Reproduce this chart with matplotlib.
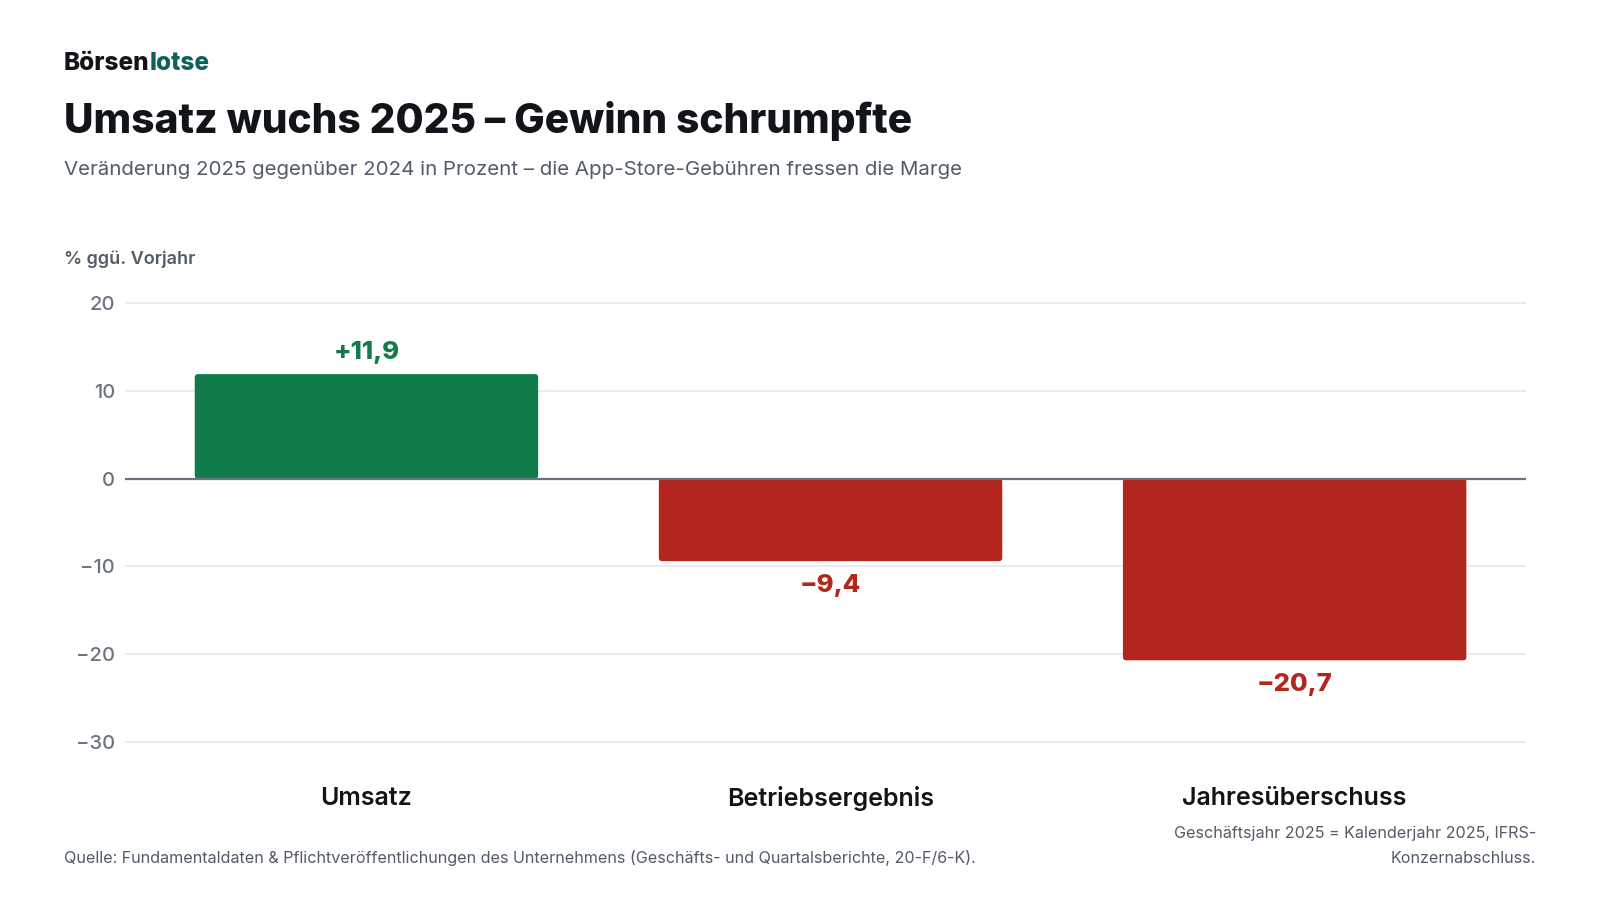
import matplotlib
matplotlib.use("Agg")
import matplotlib.pyplot as plt
import matplotlib.transforms as mtransforms
from matplotlib.patches import FancyBboxPatch

plt.rcParams['font.family'] = ['Inter', 'DejaVu Sans']

categories = ["Umsatz", "Betriebsergebnis", "Jahresüberschuss"]
values = [11.9, -9.4, -20.7]
value_labels = ["+11,9", "\u22129,4", "\u221220,7"]
yticks = [20, 10, 0, -10, -20, -30]
ytick_labels = ["20", "10", "0", "\u221210", "\u221220", "\u221230"]

GREEN = "#117c4b"
RED = "#b3261e"
DARK = "#111418"
GRAY = "#525b68"
TICKGRAY = "#6b7280"

fig = plt.figure(figsize=(16, 9), dpi=100)
fig.patch.set_facecolor("white")

ax_pos = [0.0779, 0.1658, 0.876, 0.5073]
ax = fig.add_axes(ax_pos)
x = list(range(len(categories)))
colors = [GREEN if v >= 0 else RED for v in values]
bars = ax.bar(x, values, width=0.74, color=colors, zorder=3)

xlim = (-0.521, 2.499)
ylim = (-31, 21)
ax.set_xlim(*xlim)
ax.set_ylim(*ylim)

# rounded corners: replace rectangles by rounded boxes with the same bounds
px_x = ax_pos[2] * 1600 / (xlim[1] - xlim[0])
px_y = ax_pos[3] * 900 / (ylim[1] - ylim[0])
r_px = 3.0
rx = r_px / px_x
aspect = (r_px / px_y) / rx
for b in bars:
    bx, by = b.get_x(), b.get_y()
    bw, bh = b.get_width(), b.get_height()
    y0 = min(by, by + bh)
    h = abs(bh)
    fb = FancyBboxPatch((bx, y0), bw, h,
                        boxstyle=f"round,pad=0,rounding_size={rx}",
                        mutation_aspect=aspect,
                        facecolor=b.get_facecolor(), edgecolor='none', zorder=3)
    ax.add_patch(fb)
    b.set_visible(False)

ax.set_yticks(yticks)
ax.set_yticklabels(ytick_labels)
ax.set_xticks([])
ax.tick_params(axis='y', length=0, pad=7, labelsize=14.5, labelcolor=TICKGRAY)
for lab in ax.get_yticklabels():
    lab.set_fontweight('medium')
for s in ax.spines.values():
    s.set_visible(False)
for t in yticks:
    if t == 0:
        continue
    ax.axhline(t, color="#e5e7eb", lw=1.2, zorder=1)
ax.axhline(0, color="#6b7280", lw=1.6, zorder=4)

for xi, v, lab, c in zip(x, values, value_labels, colors):
    off = 15.5 if v >= 0 else -17.5
    ax.annotate(lab, (xi, v), xytext=(0, off), textcoords='offset points',
                ha='center', va='center', fontsize=18.5, fontweight='heavy', color=c)

trans = mtransforms.blended_transform_factory(ax.transData, ax.transAxes)
for xi, cat in zip(x, categories):
    ax.text(xi, -0.1035, cat, transform=trans, ha='center', va='center',
            fontsize=18, fontweight='semibold', color=DARK)

# Header
logo_y = 1 - 64 / 900
t1 = fig.text(0.04, logo_y, "Börsen", fontsize=17.5, fontweight='heavy', color=DARK,
              ha='left', va='center')
fig.canvas.draw()
bb = t1.get_window_extent()
fig.text(bb.x1 / 1600, logo_y, "lotse", fontsize=17.5, fontweight='heavy',
         color="#0f5f5c", ha='left', va='center')

fig.text(0.04, 1 - 121 / 900, "Umsatz wuchs 2025 \u2013 Gewinn schrumpfte", fontsize=29.3,
         fontweight='heavy', color=DARK, ha='left', va='center')
fig.text(0.04, 1 - 170 / 900,
         "Veränderung 2025 gegenüber 2024 in Prozent \u2013 die App-Store-Gebühren fressen die Marge",
         fontsize=14.75, color=GRAY, ha='left', va='center')
fig.text(0.04, 1 - 259 / 900, "% ggü. Vorjahr", fontsize=13, fontweight='semibold',
         color=GRAY, ha='left', va='center')

# Footer
fig.text(0.04, 1 - 858 / 900,
         "Quelle: Fundamentaldaten & Pflichtveröffentlichungen des Unternehmens (Geschäfts- und Quartalsberichte, 20-F/6-K).",
         fontsize=11.6, color=GRAY, ha='left', va='center')
fig.text(0.96, 1 - 846 / 900,
         "Geschäftsjahr 2025 = Kalenderjahr 2025, IFRS-\nKonzernabschluss.",
         fontsize=11.6, color=GRAY, ha='right', va='center', linespacing=1.8,
         multialignment='right')

fig.savefig("out.png", dpi=100, facecolor="white")
